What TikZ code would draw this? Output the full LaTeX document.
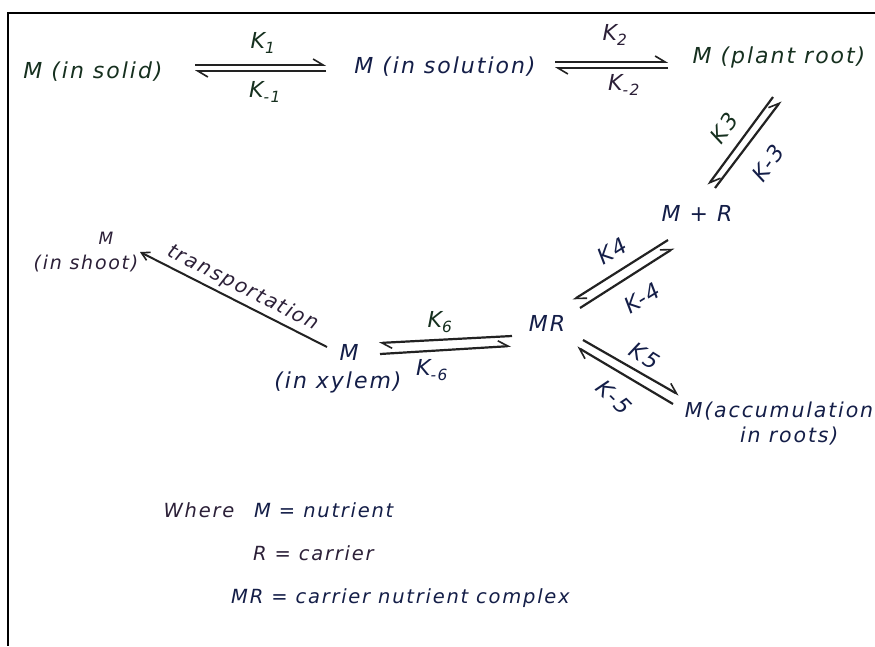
\documentclass[tikz,border=0pt]{standalone}
\usepackage{fontspec}
\setmainfont{DejaVu Sans}[LetterSpace=9]
\usetikzlibrary{arrows.meta}
\definecolor{inkg}{HTML}{16301F}
\definecolor{inkb}{HTML}{141E48}
\definecolor{inkp}{HTML}{2C2038}
\definecolor{inkl}{HTML}{222222}
\tikzset{
  txt/.style={font=\fontsize{22}{26}\selectfont\itshape, inner sep=1pt},
  legtxt/.style={font=\fontsize{19.5}{23}\selectfont\itshape, inner sep=1pt},
  acctxt/.style={font=\fontsize{20.5}{25}\selectfont\itshape, inner sep=1pt},
  trtxt/.style={font=\fontsize{20}{24}\selectfont\itshape, inner sep=1pt},
  smalltxt/.style={font=\fontsize{19}{22}\selectfont\itshape, inner sep=1pt},
  tinytxt/.style={font=\fontsize{17}{20}\selectfont\itshape, inner sep=1pt},
  harp/.style={draw=inkl, line width=2.2pt, -{Straight Barb[harpoon,length=10pt,width=12pt,line width=1.6pt]}},
  trans/.style={draw=inkl, line width=2pt, -{Straight Barb[length=8pt,width=9pt,line width=1.6pt]}},
}
\begin{document}
\begin{tikzpicture}[x=1pt,y=-1pt]
\useasboundingbox (0,0) rectangle (875,646);
\fill[white] (0,0) rectangle (875,646);
\draw[line width=2pt, black] (875,13) -- (8,13) -- (8,646);

% species
\node[txt,text=inkg] (solid) at (93,72) {M (in solid)};
\node[txt,text=inkb] (soln) at (445,67) {M (in solution)};
\node[txt,text=inkg] (root) at (779,57) {M (plant root)};
\node[txt,text=inkb] (mplusr) at (697,213) {M + R};
\node[txt,text=inkb] (mr) at (547,323) {MR};
\node[acctxt,text=inkb,align=center] (accum) at (779,424) {M(accumulation\\ \quad in roots)};
\node[txt,text=inkb] (xyl) at (349,352) {M};
\node[txt,text=inkb] (xyllbl) at (338,382) {(in xylem)};
\node[tinytxt,text=inkp] (shoot) at (106,238) {M};
\node[smalltxt,text=inkp] (shootlbl) at (86,264) {(in shoot)};

% arrow end coordinates
\coordinate (k1a) at (195,65); \coordinate (k1b) at (326,65);
\coordinate (k1c) at (326,71); \coordinate (k1d) at (195,71);
\coordinate (k2a) at (555,62); \coordinate (k2b) at (668,62);
\coordinate (k2c) at (668,68); \coordinate (k2d) at (555,68);
\coordinate (k3a) at (773,97); \coordinate (k3b) at (708,185);
\coordinate (k3c) at (715,188); \coordinate (k3d) at (781,101);
\coordinate (k4a) at (668,240); \coordinate (k4b) at (573,300);
\coordinate (k4c) at (580,308); \coordinate (k4d) at (674,248);
\coordinate (k5a) at (583,340); \coordinate (k5b) at (679,395);
\coordinate (k5c) at (673,404); \coordinate (k5d) at (577,347);
\coordinate (k6a) at (512,336); \coordinate (k6b) at (379,343);
\coordinate (k6c) at (380,354); \coordinate (k6d) at (511,346);
\coordinate (tra) at (327,347); \coordinate (trb) at (140,252);

% reversible steps
\draw[harp] (k1a) -- (k1b);
\draw[harp] (k1c) -- (k1d);
\draw[harp] (k2a) -- (k2b);
\draw[harp] (k2c) -- (k2d);
\draw[harp] (k3a) -- (k3b);
\draw[harp] (k3c) -- (k3d);
\draw[harp] (k4a) -- (k4b);
\draw[harp] (k4c) -- (k4d);
\draw[harp] (k5a) -- (k5b);
\draw[harp] (k5c) -- (k5d);
\draw[harp] (k6a) -- (k6b);
\draw[harp] (k6c) -- (k6d);
\draw[trans] (tra) -- (trb);

% rate labels
\node[txt,text=inkg] (lk1) at (263,43) {K\textsubscript{1}};
\node[txt,text=inkg] (lkm1) at (265,92) {K\textsubscript{-1}};
\node[txt,text=inkp] (lk2) at (615,35) {K\textsubscript{2}};
\node[txt,text=inkp] (lkm2) at (624,85) {K\textsubscript{-2}};
\node[txt,text=inkg,rotate=54] (lk3) at (724,128) {K3};
\node[txt,text=inkb,rotate=54] (lkm3) at (768,163) {K-3};
\node[txt,text=inkb,rotate=32] (lk4) at (612,251) {K4};
\node[txt,text=inkb,rotate=32] (lkm4) at (642,298) {K-4};
\node[txt,text=inkb,rotate=-32] (lk5) at (645,356) {K5};
\node[txt,text=inkb,rotate=-45] (lkm5) at (614,397) {K-5};
\node[txt,text=inkg] (lk6) at (440,322) {K\textsubscript{6}};
\node[txt,text=inkb] (lkm6) at (432,370) {K\textsubscript{-6}};
\node[trtxt,text=inkp,rotate=-27] (ltr) at (243,288) {transportation};

% legend
\node[legtxt,text=inkp] (where) at (199,510) {Where};
\node[legtxt,text=inkb,anchor=west] (leg1) at (253,510) {M = nutrient};
\node[legtxt,text=inkp,anchor=west] (leg2) at (252,553) {R = carrier};
\node[legtxt,text=inkb,anchor=west] (leg3) at (230,598) {MR = carrier nutrient complex};
\end{tikzpicture}
\end{document}
